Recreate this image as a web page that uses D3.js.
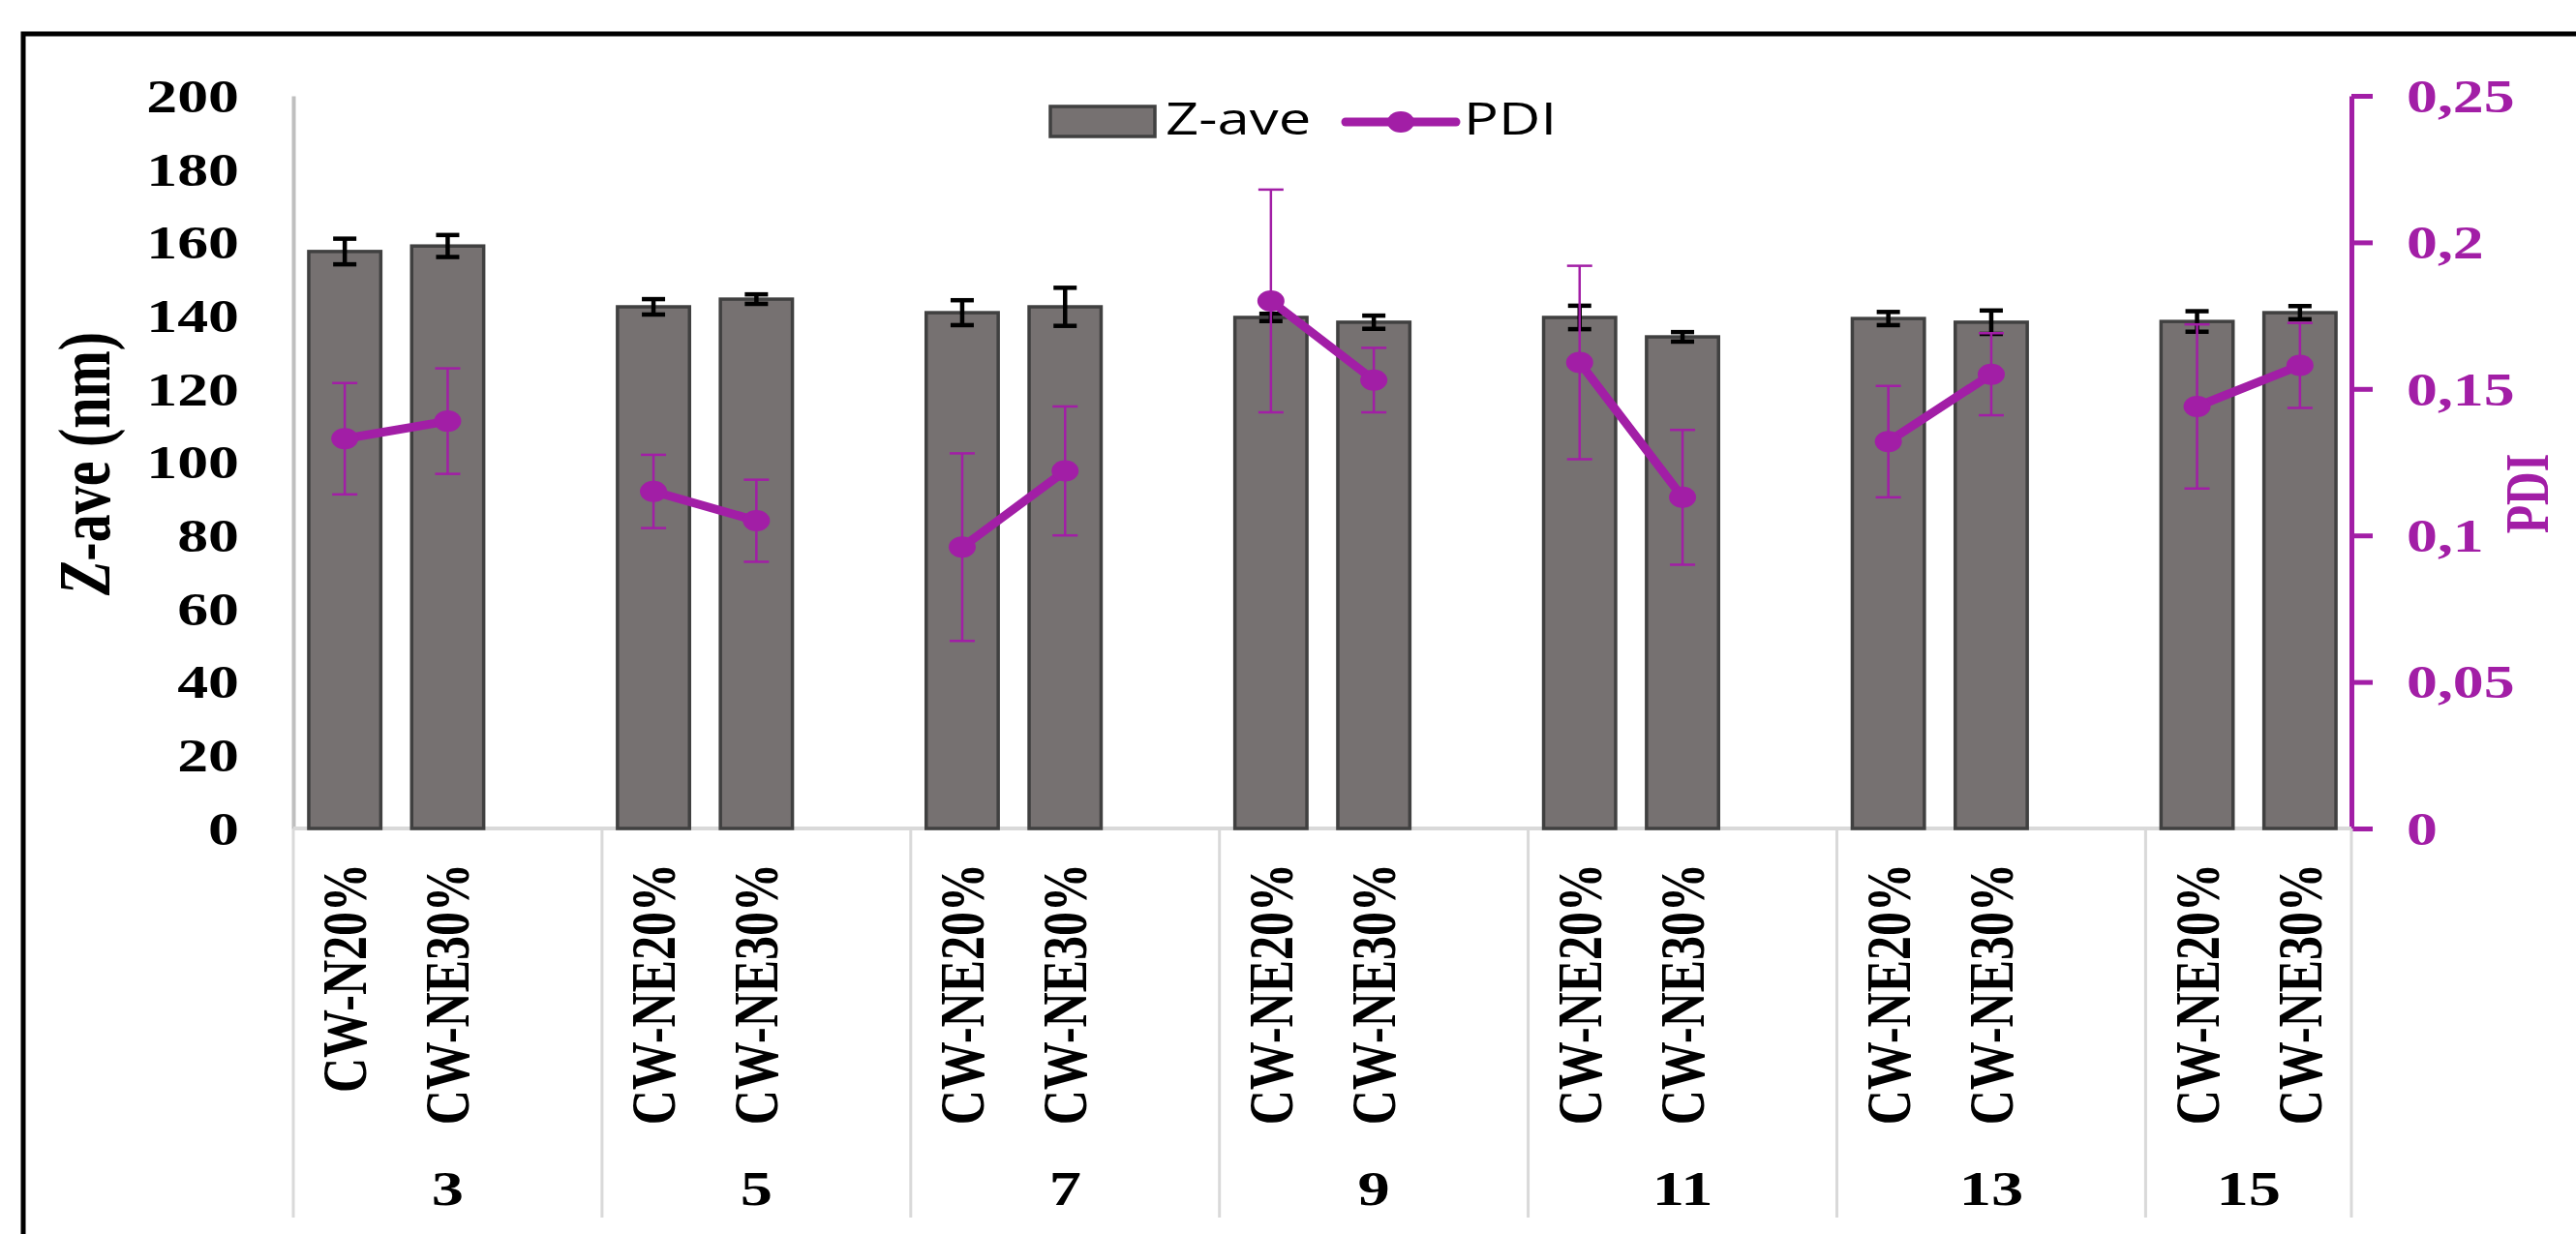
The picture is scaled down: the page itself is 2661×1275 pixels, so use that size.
<!DOCTYPE html>
<html>
<head>
<meta charset="utf-8">
<script src="https://cdn.jsdelivr.net/npm/d3@7"></script>
<style>
  html, body { margin: 0; padding: 0; background: #fff; }
  svg { display: block; }
</style>
</head>
<body>
<svg id="chart" width="2661" height="1275"></svg>
<script>
// ---------------- DATA ----------------
const groups = ["3", "5", "7", "9", "11", "13", "15"];
const subLabels = [
  ["CW-N20%", "CW-NE30%"],
  ["CW-NE20%", "CW-NE30%"],
  ["CW-NE20%", "CW-NE30%"],
  ["CW-NE20%", "CW-NE30%"],
  ["CW-NE20%", "CW-NE30%"],
  ["CW-NE20%", "CW-NE30%"],
  ["CW-NE20%", "CW-NE30%"]
];
const zave    = [157.5, 159.0, 142.4, 144.5, 140.8, 142.4, 139.5, 138.2, 139.5, 134.2, 139.2, 138.2, 138.4, 140.8];
const zaveErr = [3.5, 3.0, 2.1, 1.3, 3.4, 5.2, 1.0, 1.8, 3.2, 1.3, 1.8, 3.2, 2.8, 1.8];
const pdi     = [0.133, 0.139, 0.115, 0.105, 0.096, 0.122, 0.180, 0.153, 0.159, 0.113, 0.132, 0.155, 0.144, 0.158];
const pdiErr  = [0.019, 0.018, 0.0125, 0.014, 0.032, 0.022, 0.038, 0.011, 0.033, 0.023, 0.019, 0.014, 0.028, 0.0145];
const leftTicks  = [0, 20, 40, 60, 80, 100, 120, 140, 160, 180, 200];
const rightTicks = [0, 0.05, 0.1, 0.15, 0.2, 0.25];
const legendLabels = ["Z-ave", "PDI"];

// ---------------- STYLE ----------------
const SX = 1.33;                 // horizontal text stretch of the original
const PURPLE = "#a21ea6";
const BAR_FILL = "#767171";
const BAR_STROKE = "#404040";
const GRID = "#d9d9d9";
const SERIF = "'Liberation Serif', 'Times New Roman', serif";
const SANS = "'Open Sans', 'Liberation Sans', sans-serif";

const svg = d3.select("#chart");

// frame
svg.append("rect")
  .attr("x", 24).attr("y", 35).attr("width", 2700).attr("height", 1400)
  .attr("fill", "none").attr("stroke", "#000").attr("stroke-width", 5);

// ---------------- SCALES ----------------
// each group has 3 slots (2 samples + 1 blank), last group has 2
const slotKeys = [];
const dataKeys = [];
groups.forEach((g, gi) => {
  const n = gi === groups.length - 1 ? 2 : 3;
  for (let s = 0; s < n; s++) {
    slotKeys.push(g + "|" + s);
    if (s < 2) dataKeys.push(g + "|" + s);
  }
});

const x = d3.scaleBand().domain(slotKeys).range([303, 2429]).padding(0);
const yL = d3.scaleLinear().domain([0, 200]).range([856, 99]);
const yR = d3.scaleLinear().domain([0, 0.25]).range([856, 99]);
const bw = x.bandwidth() * 0.70;
const cx = k => x(k) + x.bandwidth() / 2;

// ---------------- AXES ----------------
const gL = svg.append("g").attr("transform", "translate(303,0)")
  .call(d3.axisLeft(yL).tickValues(leftTicks).tickSize(0).tickPadding(0));
gL.select(".domain").attr("stroke", "#bfbfbf").attr("stroke-width", 4);
gL.selectAll(".tick text")
  .attr("x", -56 / SX).attr("dy", "0.34em")
  .attr("transform", `scale(${SX},1)`)
  .attr("font-family", SERIF).attr("font-weight", "bold")
  .attr("font-size", 48).attr("fill", "#000");

const fmtR = d => String(d).replace(".", ",");
const gR = svg.append("g").attr("transform", "translate(2429,0)")
  .call(d3.axisRight(yR).tickValues(rightTicks).tickFormat(fmtR).tickSize(22).tickSizeOuter(0).tickPadding(0));
gR.select(".domain").attr("stroke", PURPLE).attr("stroke-width", 5);
gR.selectAll(".tick line").attr("stroke", PURPLE).attr("stroke-width", 5);
gR.selectAll(".tick text")
  .attr("x", 57 / SX).attr("dy", "0.34em")
  .attr("transform", `scale(${SX},1)`)
  .attr("font-family", SERIF).attr("font-weight", "bold")
  .attr("font-size", 48).attr("fill", PURPLE);

svg.append("line")
  .attr("x1", 303).attr("x2", 2429).attr("y1", yL(0)).attr("y2", yL(0))
  .attr("stroke", GRID).attr("stroke-width", 4);

const groupBounds = groups.map((g, gi) => {
  const keys = slotKeys.filter(k => k.startsWith(g + "|"));
  return [x(keys[0]), x(keys[keys.length - 1]) + x.bandwidth()];
});
const sepX = [groupBounds[0][0]].concat(groupBounds.map(b => b[1]));
svg.selectAll(".sep").data(sepX).enter().append("line")
  .attr("x1", d => d).attr("x2", d => d)
  .attr("y1", yL(0)).attr("y2", 1258)
  .attr("stroke", GRID).attr("stroke-width", 3);

// ---------------- BARS ----------------
svg.selectAll(".bar").data(dataKeys).enter().append("rect")
  .attr("x", k => cx(k) - bw / 2)
  .attr("width", bw)
  .attr("y", (k, i) => yL(zave[i]))
  .attr("height", (k, i) => yL(0) - yL(zave[i]))
  .attr("fill", BAR_FILL).attr("stroke", BAR_STROKE).attr("stroke-width", 3.5);

const zErr = svg.append("g").attr("stroke", "#000").attr("stroke-width", 4.5);
dataKeys.forEach((k, i) => {
  const c = cx(k), hi = yL(zave[i] + zaveErr[i]), lo = yL(zave[i] - zaveErr[i]);
  zErr.append("line").attr("x1", c).attr("x2", c).attr("y1", hi).attr("y2", lo);
  zErr.append("line").attr("x1", c - 12).attr("x2", c + 12).attr("y1", hi).attr("y2", hi);
  zErr.append("line").attr("x1", c - 12).attr("x2", c + 12).attr("y1", lo).attr("y2", lo);
});

// ---------------- PDI ----------------
const line = d3.line().x(d => d[0]).y(d => d[1]);
groups.forEach((g, gi) => {
  const pts = [0, 1].map(s => [cx(g + "|" + s), yR(pdi[gi * 2 + s])]);
  svg.append("path").attr("d", line(pts))
    .attr("fill", "none").attr("stroke", PURPLE).attr("stroke-width", 9).attr("stroke-linecap", "round");
});
const pErr = svg.append("g").attr("stroke", PURPLE).attr("stroke-width", 2.5);
dataKeys.forEach((k, i) => {
  const c = cx(k), hi = yR(pdi[i] + pdiErr[i]), lo = yR(pdi[i] - pdiErr[i]);
  pErr.append("line").attr("x1", c).attr("x2", c).attr("y1", hi).attr("y2", lo);
  pErr.append("line").attr("x1", c - 13).attr("x2", c + 13).attr("y1", hi).attr("y2", hi);
  pErr.append("line").attr("x1", c - 13).attr("x2", c + 13).attr("y1", lo).attr("y2", lo);
});
svg.selectAll(".pt").data(dataKeys).enter().append("ellipse")
  .attr("cx", k => cx(k)).attr("cy", (k, i) => yR(pdi[i]))
  .attr("rx", 14).attr("ry", 11).attr("fill", PURPLE);

// ---------------- LABELS ----------------
function stretched(xp, yp, rot) {
  return svg.append("g").attr("transform", `translate(${xp},${yp}) scale(${SX},1)` + (rot ? ` rotate(${rot})` : ""));
}

groups.forEach((g, gi) => {
  [0, 1].forEach(s => {
    stretched(cx(g + "|" + s), 892, -90).append("text")
      .attr("text-anchor", "end").attr("dy", "0.33em")
      .attr("font-family", SERIF).attr("font-weight", "bold").attr("font-size", 50)
      .attr("fill", "#000").text(subLabels[gi][s]);
  });
  const b = groupBounds[gi];
  stretched((b[0] + b[1]) / 2, 1245, 0).append("text")
    .attr("text-anchor", "middle")
    .attr("font-family", SERIF).attr("font-weight", "bold").attr("font-size", 50)
    .attr("fill", "#000").text(g);
});

const tL = stretched(113, 479, -90).append("text")
  .attr("text-anchor", "middle")
  .attr("font-family", SERIF).attr("font-weight", "bold").attr("font-size", 58).attr("fill", "#000");
tL.append("tspan").attr("font-style", "italic").text("Z");
tL.append("tspan").text("-ave (nm)");

stretched(2632, 510, -90).append("text")
  .attr("text-anchor", "middle")
  .attr("font-family", SERIF).attr("font-weight", "bold").attr("font-size", 48)
  .attr("fill", PURPLE).text("PDI");

// ---------------- LEGEND ----------------
svg.append("rect").attr("x", 1085).attr("y", 110).attr("width", 108).attr("height", 31)
  .attr("fill", BAR_FILL).attr("stroke", BAR_STROKE).attr("stroke-width", 3.5);
stretched(1204, 139, 0).append("text")
  .attr("font-family", SANS).attr("font-size", 45).attr("fill", "#000").text(legendLabels[0]);
svg.append("line").attr("x1", 1390).attr("x2", 1504).attr("y1", 126).attr("y2", 126)
  .attr("stroke", PURPLE).attr("stroke-width", 9).attr("stroke-linecap", "round");
svg.append("ellipse").attr("cx", 1447).attr("cy", 126).attr("rx", 14).attr("ry", 11).attr("fill", PURPLE);
stretched(1512, 139, 0).append("text")
  .attr("font-family", SANS).attr("font-size", 45).attr("fill", "#000").text(legendLabels[1]);
</script>
</body>
</html>
